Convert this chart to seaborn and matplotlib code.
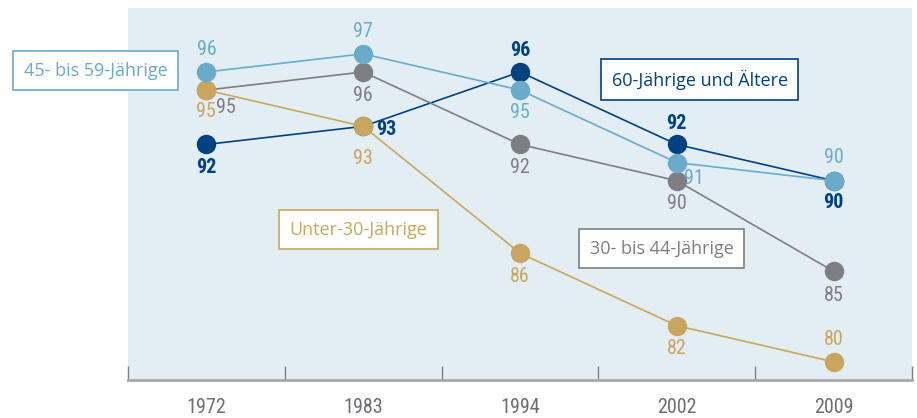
import pandas as pd
import matplotlib
matplotlib.use("Agg")
import matplotlib.pyplot as plt
from matplotlib import font_manager
from matplotlib.font_manager import FontProperties
import seaborn as sns

# Daten
jahre = ["1972", "1983", "1994", "2002", "2009"]
gruppen = ["60-Jährige und Ältere", "30- bis 44-Jährige", "Unter-30-Jährige", "45- bis 59-Jährige"]
werte_60plus = [92, 93, 96, 92, 90]
werte_30_44 = [95, 96, 92, 90, 85]
werte_unter30 = [95, 93, 86, 82, 80]
werte_45_59 = [96, 97, 95, 91, 90]

farben = {
    "60-Jährige und Ältere": "#00427f",
    "30- bis 44-Jährige": "#7d7e83",
    "Unter-30-Jährige": "#c9a65f",
    "45- bis 59-Jährige": "#6aabc9",
}

# Position der Wertebeschriftung (Pixel-Offset) je Punkt
offsets = {
    "60-Jährige und Ältere": [(0, -23), (23, -3), (0, 21), (0, 21), (0, -22)],
    "30- bis 44-Jährige": [(20, -17), (0, -24), (0, -23), (0, -23), (0, -24)],
    "Unter-30-Jährige": [(0, -21), (0, -32), (0, -23), (0, -23), (0, 22)],
    "45- bis 59-Jährige": [(0, 22), (0, 22), (0, -22), (17, -16), (0, 23)],
}

# Beschriftungsboxen (x-Index, y-Wert)
boxen = {
    "45- bis 59-Jährige": (-0.707, 96.07),
    "60-Jährige und Ältere": (3.146, 95.58),
    "Unter-30-Jährige": (0.968, 87.29),
    "30- bis 44-Jährige": (2.905, 86.25),
}

werte = {
    "60-Jährige und Ältere": werte_60plus,
    "30- bis 44-Jährige": werte_30_44,
    "Unter-30-Jährige": werte_unter30,
    "45- bis 59-Jährige": werte_45_59,
}

# long format
rows = []
for g in gruppen:
    for j, v in zip(jahre, werte[g]):
        rows.append({"Jahr": j, "Wert": v, "Gruppe": g})
df = pd.DataFrame(rows)

# Schriften: schmale Schrift für die Zahlen suchen
verfuegbar = {f.name for f in font_manager.fontManager.ttflist}
schrift = "Open Sans" if "Open Sans" in verfuegbar else "DejaVu Sans"


def schmale_schrift(fett=False):
    kandidaten = []
    for f in font_manager.fontManager.ttflist:
        schmal = ("Narrow" in f.name or "Condensed" in f.name
                  or "Narrow" in f.fname or "Condensed" in f.fname
                  or f.stretch in ("condensed", "semi-condensed"))
        if not schmal or f.style != "normal":
            continue
        w = f.weight if isinstance(f.weight, int) else (700 if "bold" in str(f.weight) else 400)
        if fett and w < 500:
            continue
        if not fett and w > 450:
            continue
        rang = 0 if "Liberation" in f.name else 1 if "Roboto" in f.name else 2 if "Open" in f.name else 3
        kandidaten.append((rang, abs(w - (600 if fett else 400)), f.fname))
    if kandidaten:
        return FontProperties(fname=sorted(kandidaten)[0][2])
    return FontProperties(family=schrift, weight="semibold" if fett else "normal")


zahl_fp = schmale_schrift(False)
zahl_fp_fett = schmale_schrift(True)

sns.set_style("white")
plt.rcParams["font.family"] = [schrift, "DejaVu Sans"]

fig = plt.figure(figsize=(9.17, 4.18), dpi=100)
ax = fig.add_axes([128 / 917, 1 - 380 / 418, 784 / 917, 372 / 418])
ax.set_facecolor("#e3eef4")

sns.lineplot(data=df, x="Jahr", y="Wert", hue="Gruppe", hue_order=gruppen,
             palette=farben, marker="o", markersize=14, markeredgewidth=0,
             linewidth=1.2, sort=False, legend=False, ax=ax)

ax.set_xlim(-0.5, 4.5)
ax.set_ylim(79.0, 99.53)

# Wertebeschriftungen
for g in gruppen:
    fp = (zahl_fp_fett if g == "60-Jährige und Ältere" else zahl_fp).copy()
    fp.set_size(14.5)
    for i, v in enumerate(werte[g]):
        dx, dy = offsets[g][i]
        ax.annotate(str(v), (i, v), xytext=(dx, dy), textcoords="offset pixels",
                    ha="center", va="center", color=farben[g], fontproperties=fp)

# Beschriftungsboxen
for g, (bx, by) in boxen.items():
    ax.text(bx, by, g, ha="center", va="center", color=farben[g], fontsize=13,
            clip_on=False,
            bbox=dict(boxstyle="square,pad=0.58", facecolor="white",
                      edgecolor=farben[g], linewidth=1.2))

# Achsen
for s in ["left", "top", "right"]:
    ax.spines[s].set_visible(False)
ax.spines["bottom"].set_color("#a7a9ac")
ax.spines["bottom"].set_linewidth(2)
ax.set_yticks([])
ax.set_xticks([-0.5, 0.5, 1.5, 2.5, 3.5, 4.5])
ax.set_xticklabels([])
ax.tick_params(axis="x", which="major", bottom=True, direction="in", length=10,
               width=1, color="#7d7e83")
ax.set_xticks(range(len(jahre)), minor=True)
tick_fp = zahl_fp.copy()
tick_fp.set_size(14.5)
ax.set_xticklabels(jahre, minor=True, fontproperties=tick_fp, color="#6d6e71")
ax.tick_params(axis="x", which="minor", bottom=True, length=0, pad=13)
ax.set_xlabel("")
ax.set_ylabel("")

plt.savefig("out.png", dpi=100)
